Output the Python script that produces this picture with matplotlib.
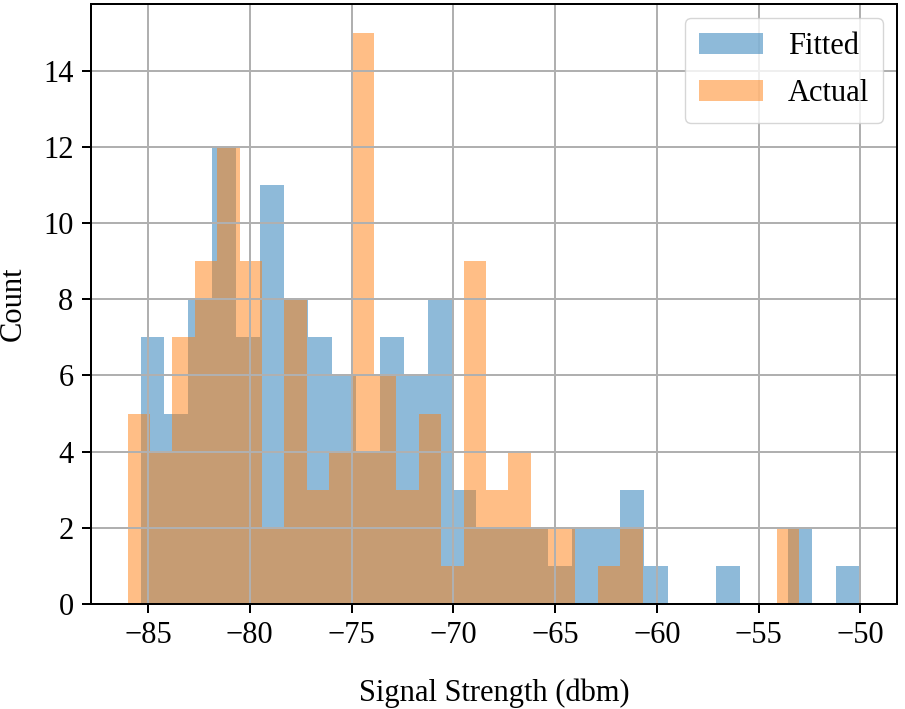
import numpy as np
import matplotlib
matplotlib.use("Agg")
import matplotlib.pyplot as plt

# ---- data ----
n_bins = 30
fitted_range = (-85.37, -50.0)
actual_range = (-86.0, -53.0)
fitted_counts = [7, 5, 8, 12, 7, 11, 8, 7, 6, 4,
                 7, 6, 8, 3, 2, 2, 2, 1, 2, 2,
                 3, 1, 0, 0, 1, 0, 0, 2, 0, 1]
actual_counts = [5, 4, 7, 9, 12, 9, 2, 8, 3, 4,
                 15, 6, 3, 5, 1, 9, 3, 4, 2, 2,
                 0, 1, 2, 0, 0, 0, 0, 0, 0, 2]
series_labels = ["Fitted", "Actual"]
xlabel = "Signal Strength (dbm)"
ylabel = "Count"

s = 1.8
plt.rcParams['font.family'] = ['Liberation Serif', 'DejaVu Serif']
plt.rcParams['font.size'] = 22
plt.rcParams['axes.linewidth'] = 0.8 * s
plt.rcParams['grid.linewidth'] = 0.8 * s
plt.rcParams['xtick.major.size'] = 3.5 * s
plt.rcParams['ytick.major.size'] = 3.5 * s
plt.rcParams['xtick.major.width'] = 0.8 * s
plt.rcParams['ytick.major.width'] = 0.8 * s
plt.rcParams['xtick.major.pad'] = 3.5 * s
plt.rcParams['ytick.major.pad'] = 3.5 * s

fig = plt.figure(figsize=(9.05, 7.09), dpi=100)
ax = fig.add_subplot(111)
fig.subplots_adjust(left=0.1006, right=0.9912, top=0.9944, bottom=0.1481)

for rng, counts, lab in [(fitted_range, fitted_counts, series_labels[0]),
                         (actual_range, actual_counts, series_labels[1])]:
    edges = np.linspace(rng[0], rng[1], n_bins + 1)
    centers = (edges[:-1] + edges[1:]) / 2
    ax.hist(centers, bins=edges, weights=counts, alpha=0.5, label=lab)

ax.grid(True)
ax.set_xlabel(xlabel, labelpad=20)
ax.set_ylabel(ylabel, labelpad=11)
leg = ax.legend(loc='upper right', borderaxespad=0.45, handlelength=2.1,
                labelspacing=0.6, borderpad=0.47)
fig.savefig("out.png", dpi=100)
